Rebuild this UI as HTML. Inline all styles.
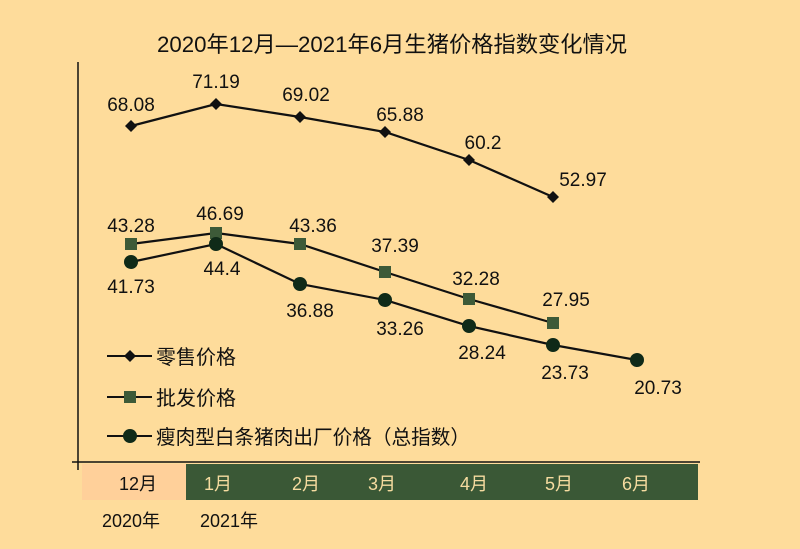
<!DOCTYPE html>
<html><head><meta charset="utf-8"><style>
body{margin:0;background:#fedc9b;}
svg{display:block;font-family:"Liberation Sans","Noto Sans CJK SC",sans-serif;}
</style></head><body>
<svg width="800" height="549" viewBox="0 0 800 549">
<rect width="800" height="549" fill="#fedc9b"/>
<text x="392" y="52" font-size="22" text-anchor="middle" fill="#111" textLength="470" lengthAdjust="spacingAndGlyphs">2020年12月—2021年6月生猪价格指数变化情况</text>
<line x1="78" y1="62" x2="78" y2="470" stroke="#111" stroke-width="1.5"/>
<line x1="72" y1="462" x2="700" y2="462" stroke="#111" stroke-width="1.5"/>
<rect x="82" y="464" width="104" height="36" fill="#ffd09a"/>
<rect x="186" y="464" width="512" height="36" fill="#3a5836"/>
<g font-size="18" text-anchor="middle">
<text x="138" y="490" fill="#111">12月</text>
<g fill="#f6dca0"><text x="218" y="490">1月</text><text x="306" y="490">2月</text><text x="382" y="490">3月</text><text x="474" y="490">4月</text><text x="559" y="490">5月</text><text x="636" y="490">6月</text></g>
<text x="131" y="527" fill="#111">2020年</text><text x="229" y="527" fill="#111">2021年</text>
</g>
<g fill="none" stroke="#111" stroke-width="2.2">
<polyline points="131,126 216,104 300,117 385,132 469,160 553,197"/>
<polyline points="131,244 216,233 300,244 385,272 469,299 553,323"/>
<polyline points="131,262 216,244 300,284 385,300 469,326 553,345 637,360"/>
</g>
<g fill="#111">
<path d="M131,120l6,6-6,6-6-6z"/><path d="M216,98l6,6-6,6-6-6z"/><path d="M300,111l6,6-6,6-6-6z"/><path d="M385,126l6,6-6,6-6-6z"/><path d="M469,154l6,6-6,6-6-6z"/><path d="M553,191l6,6-6,6-6-6z"/>
</g>
<g fill="#3d5a38">
<rect x="125" y="238" width="12" height="12"/><rect x="210" y="227" width="12" height="12"/><rect x="294" y="238" width="12" height="12"/><rect x="379" y="266" width="12" height="12"/><rect x="463" y="293" width="12" height="12"/><rect x="547" y="317" width="12" height="12"/>
</g>
<g fill="#0f2a18">
<circle cx="131" cy="262" r="7"/><circle cx="216" cy="244" r="7"/><circle cx="300" cy="284" r="7"/><circle cx="385" cy="300" r="7"/><circle cx="469" cy="326" r="7"/><circle cx="553" cy="345" r="7"/><circle cx="637" cy="360" r="7"/>
</g>
<g font-size="19" fill="#111" text-anchor="middle">
<text x="131" y="111">68.08</text><text x="216" y="88">71.19</text><text x="306" y="101">69.02</text><text x="400" y="121">65.88</text><text x="483" y="149">60.2</text><text x="583" y="186">52.97</text>
<text x="131" y="232">43.28</text><text x="220" y="220">46.69</text><text x="313" y="232">43.36</text><text x="395" y="252">37.39</text><text x="476" y="285">32.28</text><text x="566" y="306">27.95</text>
<text x="131" y="293">41.73</text><text x="222" y="275">44.4</text><text x="310" y="317">36.88</text><text x="400" y="335">33.26</text><text x="482" y="359">28.24</text><text x="565" y="379">23.73</text><text x="658" y="394">20.73</text>
</g>
<g stroke="#111" stroke-width="2">
<line x1="107" y1="356" x2="152" y2="356"/><line x1="107" y1="397" x2="152" y2="397"/><line x1="107" y1="436" x2="152" y2="436"/>
</g>
<path d="M130,350l6,6-6,6-6-6z" fill="#111"/>
<rect x="124" y="391" width="12" height="12" fill="#3d5a38"/>
<circle cx="130" cy="436" r="7" fill="#0f2a18"/>
<g font-size="20" fill="#111">
<text x="156" y="364">零售价格</text><text x="156" y="405">批发价格</text><text x="156" y="444" textLength="314" lengthAdjust="spacingAndGlyphs">瘦肉型白条猪肉出厂价格（总指数）</text>
</g>
</svg>
</body></html>
